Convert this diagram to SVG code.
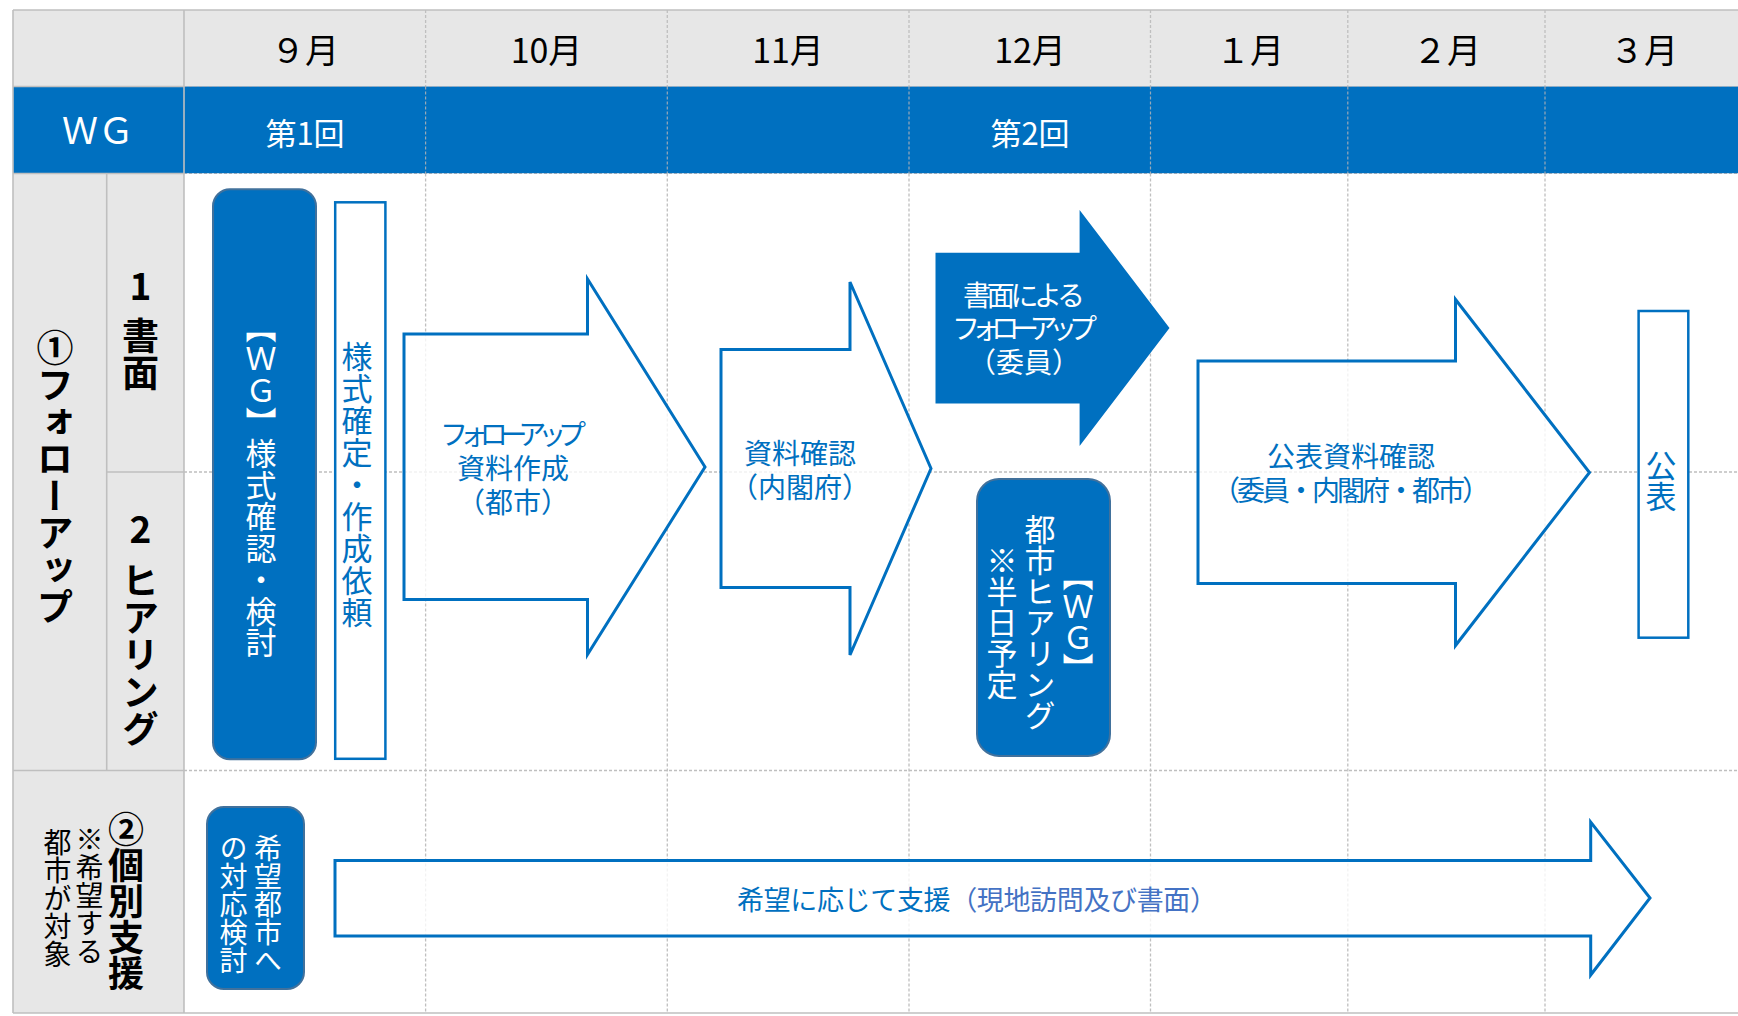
<svg xmlns="http://www.w3.org/2000/svg" width="1738" height="1016" viewBox="0 0 1738 1016">
<defs>
<style>
text{font-family:"Noto Sans CJK JP","Noto Sans",sans-serif;}
.solid{stroke:#bfbfbf;stroke-width:1.6;fill:none;}
.dash{stroke:#bfbfbf;stroke-width:1.3;stroke-dasharray:3 2;fill:none;}
.dashw{stroke:#9aa9b8;stroke-width:1.2;stroke-dasharray:3 2;fill:none;}
.arrow{fill:#ffffff;fill-opacity:0.8;stroke:#0070c0;stroke-width:3;stroke-linejoin:miter;}
.bluebox{fill:#0070c0;stroke:#41719c;stroke-width:2;}
.whitebox{fill:#ffffff;stroke:#0070c0;stroke-width:2.5;}
.vt{writing-mode:vertical-rl;text-anchor:middle;}
.month{font-size:34px;fill:#000;text-anchor:middle;}
.lbl{fill:#000;font-weight:bold;}
.atext{font-size:28px;fill:#0070c0;font-family:"Liberation Sans","Noto Sans CJK JP",sans-serif;}
.wtext{font-size:28px;fill:#ffffff;font-family:"Liberation Sans","Noto Sans CJK JP",sans-serif;}
</style>
</defs>

<g id="table">
<rect x="13" y="10" width="1725" height="76.5" fill="#e7e7e7"/>
<rect x="13" y="86.5" width="1725" height="87" fill="#0070c0"/>
<rect x="13" y="173.5" width="171" height="839.5" fill="#e7e7e7"/>
<rect x="184" y="173.5" width="1554" height="839.5" fill="#ffffff"/>
<g id="dashed-lines">
<line class="dash" x1="425.6" y1="10" x2="425.6" y2="86.5"/>
<line class="dash" x1="667.3" y1="10" x2="667.3" y2="86.5"/>
<line class="dash" x1="909" y1="10" x2="909" y2="86.5"/>
<line class="dash" x1="1150.5" y1="10" x2="1150.5" y2="86.5"/>
<line class="dash" x1="1347.8" y1="10" x2="1347.8" y2="86.5"/>
<line class="dash" x1="1545" y1="10" x2="1545" y2="86.5"/>
<line class="dashw" x1="425.6" y1="86.5" x2="425.6" y2="173.5"/>
<line class="dashw" x1="667.3" y1="86.5" x2="667.3" y2="173.5"/>
<line class="dashw" x1="909" y1="86.5" x2="909" y2="173.5"/>
<line class="dashw" x1="1150.5" y1="86.5" x2="1150.5" y2="173.5"/>
<line class="dashw" x1="1347.8" y1="86.5" x2="1347.8" y2="173.5"/>
<line class="dashw" x1="1545" y1="86.5" x2="1545" y2="173.5"/>
<line class="dashw" x1="184" y1="86.5" x2="1738" y2="86.5"/>
<line class="dashw" x1="184" y1="173.5" x2="1738" y2="173.5"/>
<line class="dash" x1="425.6" y1="173.5" x2="425.6" y2="1013"/>
<line class="dash" x1="667.3" y1="173.5" x2="667.3" y2="1013"/>
<line class="dash" x1="909" y1="173.5" x2="909" y2="1013"/>
<line class="dash" x1="1150.5" y1="173.5" x2="1150.5" y2="1013"/>
<line class="dash" x1="1347.8" y1="173.5" x2="1347.8" y2="1013"/>
<line class="dash" x1="1545" y1="173.5" x2="1545" y2="1013"/>
<line class="dash" x1="184" y1="472" x2="1738" y2="472"/>
<line class="dash" x1="184" y1="770.5" x2="1738" y2="770.5"/>
</g>
<g id="solid-lines">
<line class="solid" x1="13" y1="10" x2="1738" y2="10"/>
<line class="solid" x1="13" y1="1013" x2="1738" y2="1013"/>
<line class="solid" x1="13" y1="10" x2="13" y2="1013"/>
<line class="solid" x1="184" y1="10" x2="184" y2="1013"/>
<line class="solid" x1="106.7" y1="173.5" x2="106.7" y2="770.5"/>
<line class="solid" x1="13" y1="86.5" x2="184" y2="86.5"/>
<line class="solid" x1="13" y1="173.5" x2="184" y2="173.5"/>
<line class="solid" x1="106.7" y1="472" x2="184" y2="472"/>
<line class="solid" x1="13" y1="770.5" x2="184" y2="770.5"/>
</g>
</g>

<g id="header-months">
<text class="month" x="305" y="63">９月</text>
<text class="month" x="546.5" y="63">10月</text>
<text class="month" x="788" y="63">11月</text>
<text class="month" x="1030" y="63">12月</text>
<text class="month" x="1250" y="63">１月</text>
<text class="month" x="1447" y="63">２月</text>
<text class="month" x="1644" y="63">３月</text>
</g>

<g id="wg-row">
<text x="98" y="144" font-size="36" fill="#fff" text-anchor="middle">ＷＧ</text>
<text x="305" y="145" font-size="31" fill="#fff" text-anchor="middle">第1回</text>
<text x="1030" y="145" font-size="31" fill="#fff" text-anchor="middle">第2回</text>
</g>

<g id="row-labels">
<text class="lbl vt" x="55" y="477" font-size="37">①フォローアップ</text>
<text class="lbl" x="140.5" y="300" font-size="37" text-anchor="middle">1</text>
<text class="lbl vt" x="140.5" y="354" font-size="37">書面</text>
<text class="lbl" x="140.5" y="543" font-size="37" text-anchor="middle">2</text>
<text class="lbl vt" x="140.5" y="655" font-size="37">ヒアリング</text>
<text class="lbl vt" x="126" y="901" font-size="36">②個別支援</text>
<text class="vt" font-size="28" fill="#000"><tspan x="89.5" y="895">※希望する</tspan><tspan x="57.5" y="898">都市が対象</tspan></text>
</g>

<g id="node-wg-kentou">
<rect class="bluebox" x="213" y="189.3" width="103" height="570" rx="17"/>
<text class="vt" x="261" y="485" font-size="31" fill="#fff" letter-spacing="0.5">【ＷＧ】様式確認・検討</text>
</g>

<g id="node-yoshiki-kakutei">
<rect class="whitebox" x="335.2" y="202.3" width="50.2" height="556.5"/>
<text class="vt" x="357" y="485" font-size="31" fill="#0070c0" letter-spacing="1">様式確定・作成依頼</text>
</g>

<g id="connectors">
<g id="arrow-followup-shiryo">
<path class="arrow" d="M404,334 H587.5 V279 L705,467 L587.5,654.5 V599.5 H404 Z"/>
<text class="atext"><tspan x="440" y="445" textLength="146" lengthAdjust="spacing">フォローアップ</tspan><tspan x="513" y="479" text-anchor="middle">資料作成</tspan><tspan x="513" y="513" text-anchor="middle">（都市）</tspan></text>
</g>
<g id="arrow-shiryo-kakunin">
<path class="arrow" d="M721,349.5 H850 V282 L931,468.5 L850,655 V587.5 H721 Z"/>
<text class="atext" text-anchor="middle"><tspan x="800" y="463.5">資料確認</tspan><tspan x="800" y="497.5">（内閣府）</tspan></text>
</g>
<g id="arrow-shomen-followup">
<path d="M935.5,252.7 H1079.6 V210 L1169.5,328 L1079.6,446 V403.5 H935.5 Z" fill="#0070c0"/>
<text class="wtext"><tspan x="963" y="306" textLength="122" lengthAdjust="spacing">書面による</tspan><tspan x="952" y="338.6" textLength="145" lengthAdjust="spacing">フォローアップ</tspan><tspan x="1024" y="373" text-anchor="middle">（委員）</tspan></text>
</g>
<g id="arrow-kohyo-shiryo">
<path class="arrow" d="M1198,361 H1455.5 V299.5 L1589.5,472.5 L1455.5,645.5 V583.5 H1198 Z"/>
<text class="atext"><tspan x="1351" y="467" text-anchor="middle">公表資料確認</tspan><tspan x="1212" y="501" textLength="278" lengthAdjust="spacing">（委員・内閣府・都市）</tspan></text>
</g>
<g id="arrow-shien">
<path class="arrow" d="M335,860.5 H1590.7 V822 L1650,898 L1590.7,975 V936 H335 Z"/>
<text x="737" y="910" font-size="27" textLength="480" lengthAdjust="spacing"><tspan fill="#0070c0">希望に応じて支援</tspan><tspan fill="#4472c4">（現地訪問及び書面）</tspan></text>
</g>
</g>

<g id="node-toshi-hearing">
<rect class="bluebox" x="977" y="479" width="133" height="277" rx="22"/>
<text class="vt" font-size="31" fill="#fff"><tspan x="1078" y="622">【ＷＧ】</tspan><tspan x="1040" y="622">都市ヒアリング</tspan><tspan x="1002" y="622">※半日予定</tspan></text>
</g>

<g id="node-kohyo">
<rect class="whitebox" x="1638.6" y="311" width="49.7" height="326.7"/>
<text class="vt" x="1661" y="481" font-size="31" fill="#0070c0">公表</text>
</g>

<g id="node-kibou-toshi">
<rect class="bluebox" x="207" y="807" width="97" height="182" rx="17"/>
<text class="vt" font-size="28" fill="#fff"><tspan x="268" y="904">希望都市へ</tspan><tspan x="233.5" y="904">の対応検討</tspan></text>
</g>
</svg>
